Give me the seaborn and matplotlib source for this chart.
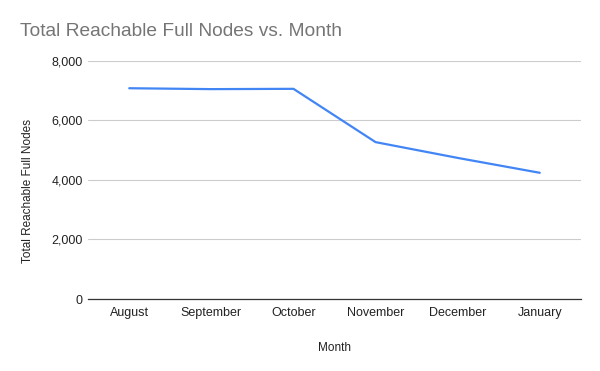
import matplotlib
matplotlib.use("Agg")
import matplotlib.pyplot as plt
import seaborn as sns
import pandas as pd

months = ["August", "September", "October", "November", "December", "January"]
nodes = [7080, 7050, 7060, 5270, 4740, 4240]
y_ticks = [0, 2000, 4000, 6000, 8000]

sns.set_theme(style="white")
plt.rcParams["font.family"] = ["Liberation Sans", "DejaVu Sans"]

df = pd.DataFrame({"Month": months, "Total Reachable Full Nodes": nodes})

fig = plt.figure(figsize=(6, 3.71), dpi=100)
ax = fig.add_axes([0.147, 0.194, 0.821, 0.642])

sns.lineplot(data=df, x="Month", y="Total Reachable Full Nodes", sort=False,
             color="#4285F4", linewidth=1.6, ax=ax)

ax.set_xlim(-0.5, 5.5)
ax.set_ylim(0, 8000)
ax.set_yticks(y_ticks)
ax.set_yticklabels([f"{v:,}" for v in y_ticks])
ax.grid(axis="y", color="#cccccc", linewidth=0.8)
ax.set_axisbelow(True)
for s in ["top", "right", "left"]:
    ax.spines[s].set_visible(False)
ax.spines["bottom"].set_color("#333333")
ax.spines["bottom"].set_linewidth(0.9)
ax.tick_params(axis="both", length=0, labelsize=9, colors="#222222")
ax.tick_params(axis="x", pad=6)
ax.tick_params(axis="y", pad=4)

ax.set_xlabel("Month", fontsize=8.5, color="#222222", labelpad=16)
ax.set_ylabel("Total Reachable Full Nodes", fontsize=8.5, color="#222222", va="center")
ax.yaxis.set_label_coords(-0.122, 0.455)

fig.text(0.033, 0.915, "Total Reachable Full Nodes vs. Month", fontsize=13.8,
         color="#757575", va="center", ha="left")

fig.savefig("out.png", dpi=100)
